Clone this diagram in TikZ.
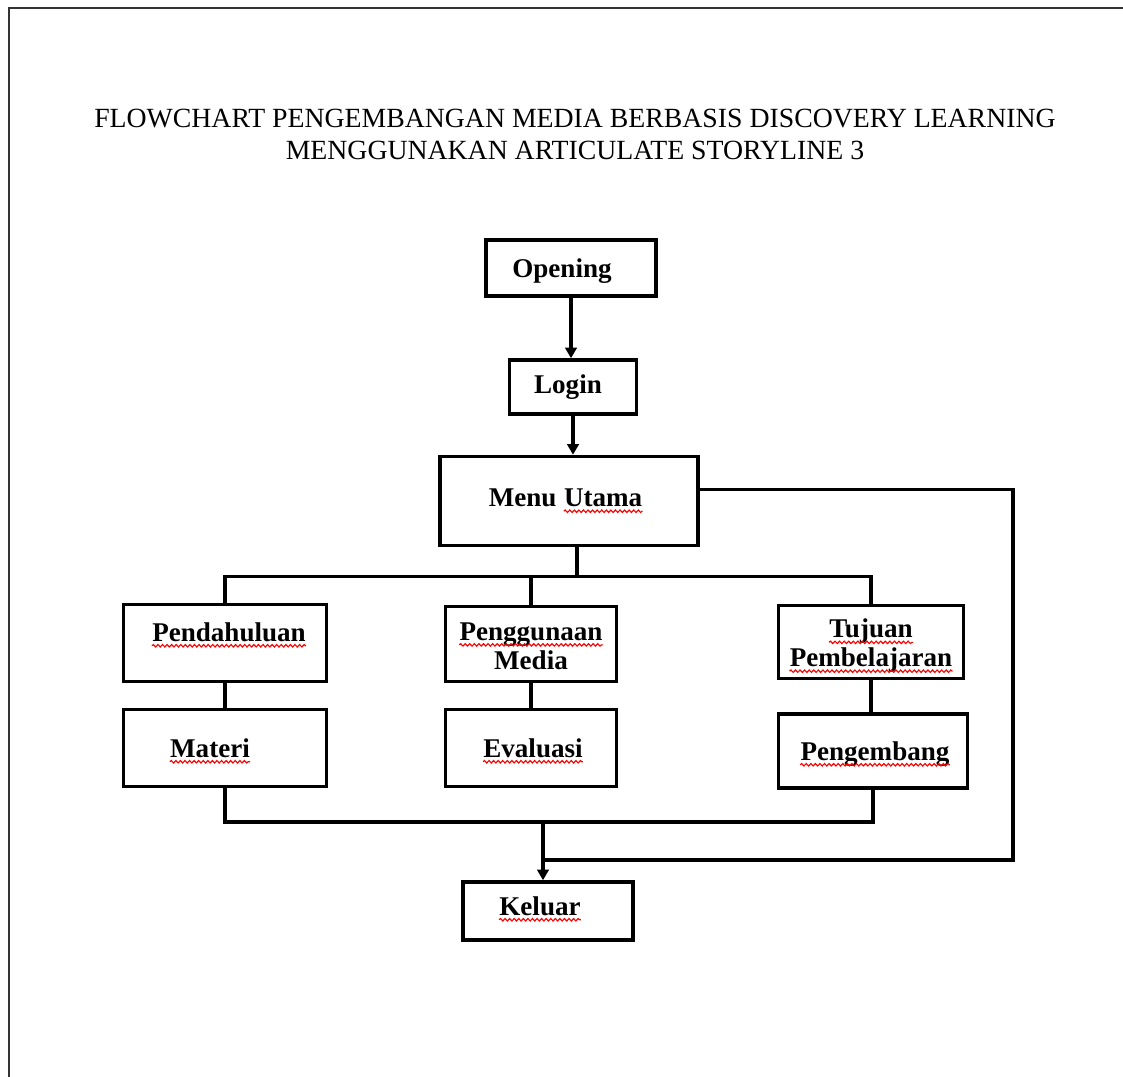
\documentclass[tikz,border=0pt]{standalone}
\usepackage{fontspec}
\setmainfont{Liberation Serif}
\usepackage{tikz}
\usetikzlibrary{arrows.meta, decorations.pathmorphing}
% red spell-check wave under a word
\newcommand\spellmark[1]{\tikz[baseline=(w.base)]{%
	\node[inner sep=0pt] (w) {#1};
	\draw[red, line width=0.65pt, decorate,
		decoration={snake, amplitude=0.7pt, segment length=2.6pt}]
		([yshift=-2.6pt]w.base west) -- ([yshift=-2.6pt]w.base east);}}

\tikzset{
  box/.style 2 args={draw, line width=2pt, minimum width=#1*0.02cm,
    minimum height=#2*0.02cm, inner sep=0pt},
  lbl/.style={font=\bfseries\fontsize{15.4}{16.4}\selectfont, align=center, inner sep=0pt},
  link/.style={line width=1.9pt},
  arr/.style={link, -{Triangle[length=6pt, width=6.5pt]}},
}

\begin{document}
\begin{tikzpicture}[x=0.02cm, y=-0.02cm]
	\useasboundingbox (0,0) rectangle (1123,1077);

	% page frame, only top and left edges show
	\draw[black!80, line width=1.1pt] (9,1077) -- (9,8) -- (1123,8);

	\node[font=\fontsize{15.8}{18.2}\selectfont, align=center] (title) at (575,134)
		{FLOWCHART PENGEMBANGAN MEDIA BERBASIS DISCOVERY LEARNING\\
		 MENGGUNAKAN ARTICULATE STORYLINE 3};

	% boxes
	\node[box={170}{56}] (open)  at (571,268) {};
	\node[box={127}{54}] (login) at (573,387) {};
	\node[box={258}{89}] (menu)  at (569,501) {};
	\node[box={203}{77}] (pend)  at (225,643) {};
	\node[box={171}{75}] (pmed)  at (531,644) {};
	\node[box={185}{73}] (tuj)   at (871,642) {};
	\node[box={203}{77}] (mat)   at (225,748) {};
	\node[box={171}{77}] (eval)  at (531,748) {};
	\node[box={189}{74}] (peng)  at (873,751) {};
	\node[box={170}{58}] (kel)   at (548,911) {};

	% texts
	\node[lbl] (open-t)  at (562,271) {Opening};
	\node[lbl] (login-t) at (568,387) {Login};
	\node[lbl] (menu-t)  at (566,501) {Menu \spellmark{Utama}};
	\node[lbl] (pend-t)  at (229,635) {\spellmark{Pendahuluan}};
	\node[lbl] (pmed-t)  at (531,646) {\spellmark{Penggunaan}\\Media};
	\node[lbl] (tuj-t)   at (871,646) {\spellmark{Tujuan}\\\spellmark{Pembelajaran}};
	\node[lbl] (mat-t)   at (210,751) {\spellmark{Materi}};
	\node[lbl] (eval-t)  at (533,751) {\spellmark{Evaluasi}};
	\node[lbl] (peng-t)  at (875,754) {\spellmark{Pengembang}};
	\node[lbl] (kel-t)   at (540,909) {\spellmark{Keluar}};

	\coordinate (join) at (543,822);
	\coordinate (back) at (1013,860);

	% connectors
	\draw[arr] (open.south) -- (open.south |- login.north);
	\draw[arr] (login.south) -- (login.south |- menu.north);

	\draw[link] ([xshift=8*0.02cm]menu.south) -- ++(0,29) coordinate (bus);
	\draw[link] (pend.north) |- (bus) -| (tuj.north);
	\draw[link] (pmed.north) -- (pmed.north |- bus);

	\draw[link] (pend) -- (mat);
	\draw[link] (pmed) -- (eval);
	\draw[link] (tuj.south) -- (tuj.south |- peng.north);

	\draw[link] (mat.south) |- (join) -| (peng.south);
	\draw[arr] (join) -- (join |- kel.north);
	\draw[link] (menu.5) -| (back) -- (back -| join);
\end{tikzpicture}
\end{document}
